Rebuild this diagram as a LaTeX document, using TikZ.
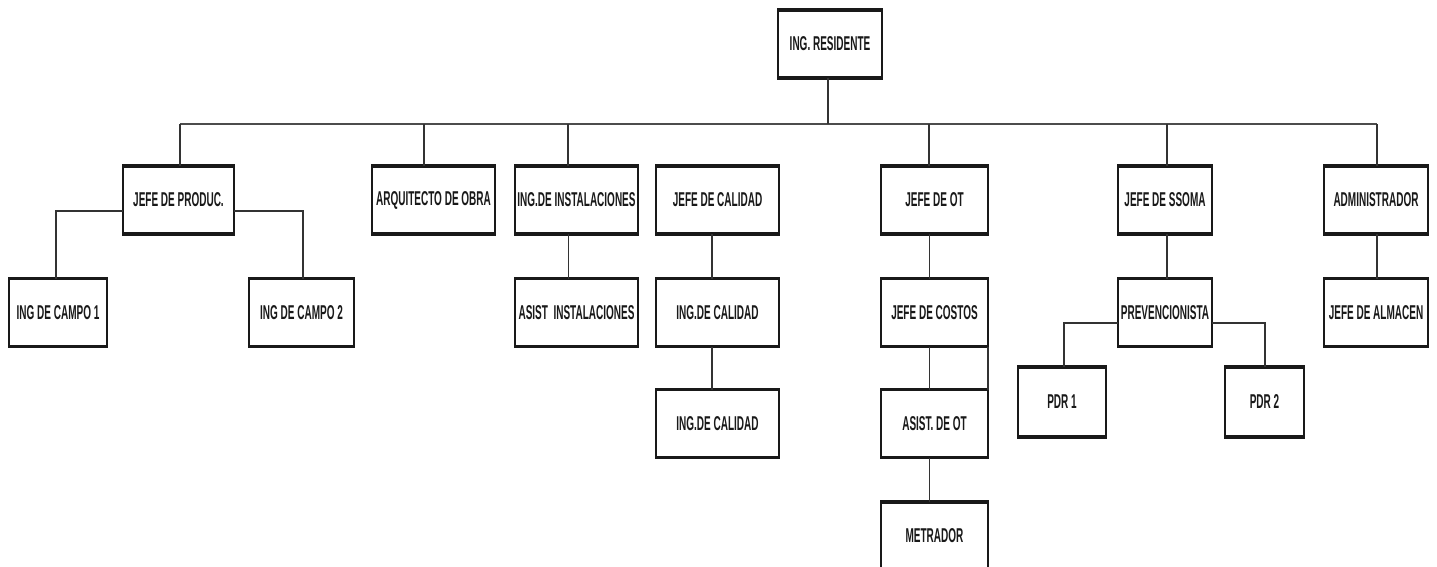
\documentclass[tikz,border=0pt]{standalone}
\usepackage{fontspec}
\setmainfont{Liberation Sans}[FakeStretch=0.5]
\begin{document}
\begin{tikzpicture}[x=1pt,y=-1pt,
  orgbox/.style={draw=black!90, line width=1.8, inner sep=0pt, outer sep=0pt,
    minimum height=68, font=\fontsize{20}{22}\selectfont\bfseries, text=black!90,
    append after command={
      (\tikzlastnode.north west) edge[line width=3.4, black!90, shorten <=-0.9, shorten >=-0.9] (\tikzlastnode.north east)
      (\tikzlastnode.south west) edge[line width=3.4, black!90, shorten <=-0.9, shorten >=-0.9] (\tikzlastnode.south east)}},
  link/.style={draw=black!80, line width=1.3},
  bus/.style={draw=black!70, line width=2}]
\useasboundingbox[fill=white] (0,0) rectangle (1437,567);

% top
\node[orgbox, minimum width=104] (res) at (830,44) {ING. RESIDENTE};

% first level
\node[orgbox, minimum width=111] (prod) at (178.5,200) {JEFE DE PRODUC.};
\node[orgbox, minimum width=123] (arq) at (433.5,200) {ARQUITECTO DE OBRA};
\node[orgbox, minimum width=123] (inst) at (576.5,200) {ING.DE INSTALACIONES};
\node[orgbox, minimum width=123] (cal) at (717.5,200) {JEFE DE CALIDAD};
\node[orgbox, minimum width=107] (ot) at (934.5,200) {JEFE DE OT};
\node[orgbox, minimum width=94] (ssoma) at (1165,200) {JEFE DE SSOMA};
\node[orgbox, minimum width=104] (adm) at (1376,200) {ADMINISTRADOR};

% second level
\node[orgbox, minimum width=98] (campo1) at (58,312.5) {ING DE CAMPO 1};
\node[orgbox, minimum width=105] (campo2) at (301.5,312.5) {ING DE CAMPO 2};
\node[orgbox, minimum width=123] (asinst) at (576.5,312.5) {ASIST\ \ INSTALACIONES};
\node[orgbox, minimum width=123] (ingcal1) at (717.5,312.5) {ING.DE CALIDAD};
\node[orgbox, minimum width=107] (costos) at (934.5,312.5) {JEFE DE COSTOS};
\node[orgbox, minimum width=94] (prev) at (1165,312.5) {PREVENCIONISTA};
\node[orgbox, minimum width=104] (almacen) at (1376,312.5) {JEFE DE ALMACEN};

% third level
\node[orgbox, minimum width=123] (ingcal2) at (717.5,423.5) {ING.DE CALIDAD};
\node[orgbox, minimum width=107] (asistot) at (934.5,423.5) {ASIST. DE OT};
\node[orgbox, minimum width=88, minimum height=70] (pdr1) at (1062,402) {PDR 1};
\node[orgbox, minimum width=79, minimum height=70] (pdr2) at (1264.5,402) {PDR 2};

% fourth level
\node[orgbox, minimum width=107] (metrador) at (934.5,536) {METRADOR};

% main bus
\coordinate (busL) at (180,124);
\coordinate (busR) at (1377,124);
\draw[bus] (busL) -- (busR);
\draw[link] ([xshift=-2]res.south) -- ([xshift=-2]res.south |- busL);

% drops from the bus
\draw[link] ([xshift=1.5]prod.north) -- ([xshift=1.5]prod.north |- busL);
\draw[link] ([xshift=-9.5]arq.north) -- ([xshift=-9.5]arq.north |- busL);
\draw[link] ([xshift=-8.5]inst.north) -- ([xshift=-8.5]inst.north |- busL);
\draw[link] ([xshift=-5.5]ot.north) -- ([xshift=-5.5]ot.north |- busL);
\draw[link] ([xshift=2]ssoma.north) -- ([xshift=2]ssoma.north |- busL);
\draw[link] ([xshift=1]adm.north) -- (busR);

% production branch
\draw[link] ([yshift=-11]prod.west) -| ([xshift=-2]campo1.north);
\draw[link] ([yshift=-11]prod.east) -| ([xshift=1.5]campo2.north);

% installations
\draw[link] ([xshift=-8]inst.south) -- ([xshift=-8]asinst.north);

% quality chain
\draw[link] ([xshift=-5.5]cal.south) -- ([xshift=-5.5]ingcal1.north);
\draw[link] ([xshift=-5.5]ingcal1.south) -- ([xshift=-5.5]ingcal2.north);

% OT chain
\draw[link] ([xshift=-5]ot.south) -- ([xshift=-5]costos.north);
\draw[link] ([xshift=-5]costos.south) -- ([xshift=-5]asistot.north);
\draw[link] (costos.south east) -- (asistot.north east);
\draw[link] ([xshift=-5]asistot.south) -- ([xshift=-5]metrador.north);

% safety chain
\draw[link] ([xshift=2]ssoma.south) -- ([xshift=2]prev.north);
\draw[link] ([yshift=-10.5]prev.west) -| ([xshift=2]pdr1.north);
\draw[link] ([yshift=-10.5]prev.east) -| ([xshift=0.5]pdr2.north);

% administration
\draw[link] ([xshift=1]adm.south) -- ([xshift=1]almacen.north);
\end{tikzpicture}
\end{document}
